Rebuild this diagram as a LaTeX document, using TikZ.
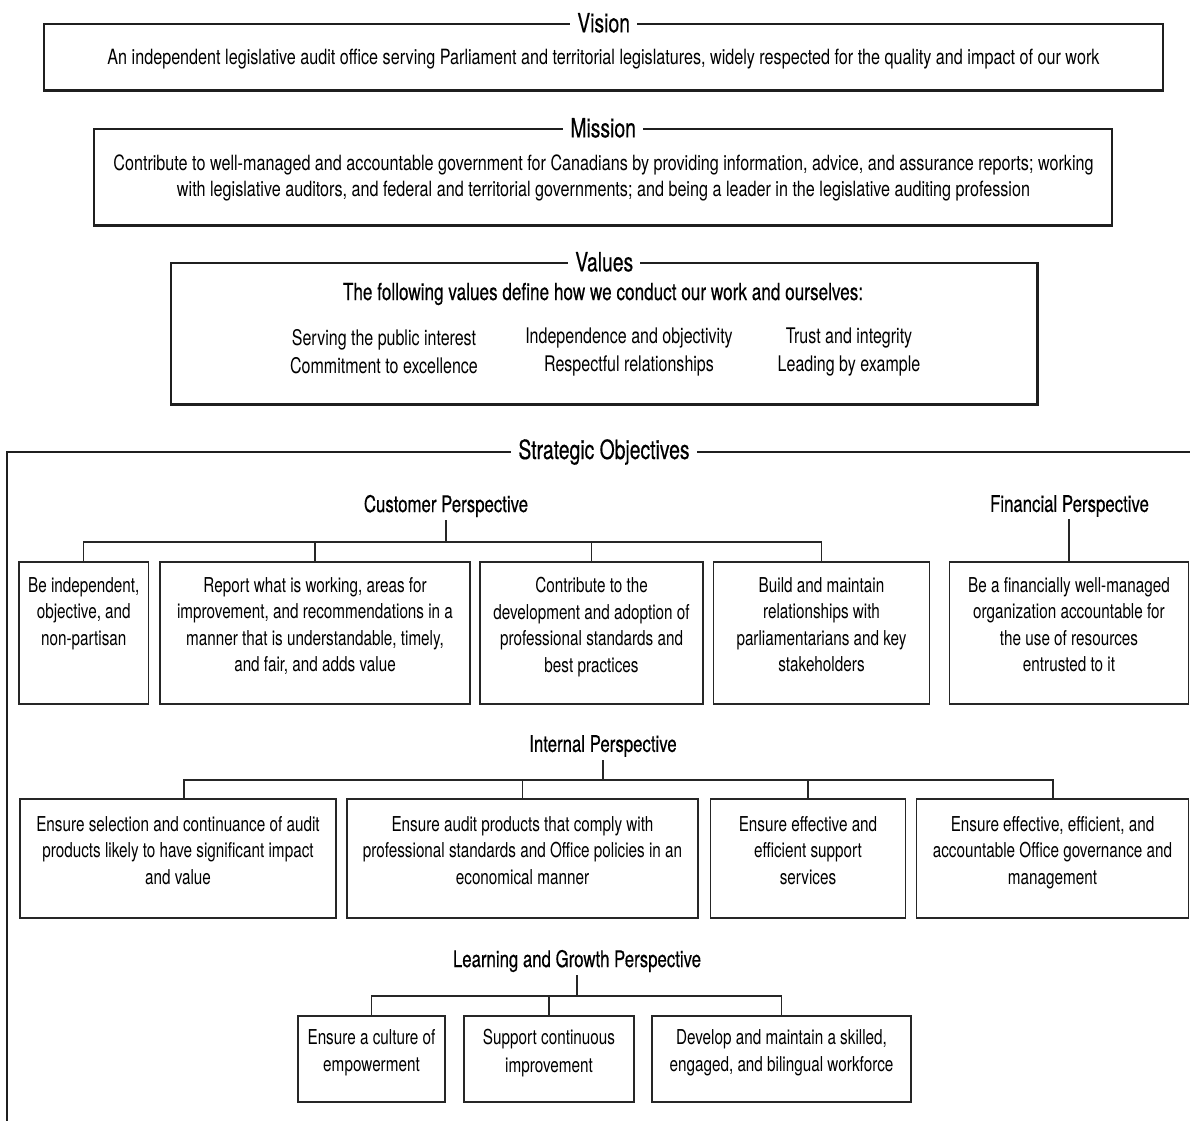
\documentclass[tikz,border=0pt]{standalone}
\usepackage{fontspec}
\setmainfont{TeX Gyre Heros}[FakeStretch=0.745]
\newfontfamily\vmfont{TeX Gyre Heros}[FakeStretch=0.77]
\newfontfamily\headfont{TeX Gyre Heros}[FakeStretch=0.73, FakeBold=0.4]
\usetikzlibrary{fit}
\tikzset{
  frame/.style={draw=black!88, line width=2.2pt},
  obox/.style={draw=black!85, line width=1.5pt, inner sep=0pt},
  ttl/.style={fill=white, inner xsep=7pt, inner ysep=2pt, font=\headfont\fontsize{26.5}{30}\selectfont},
  head/.style={inner sep=3pt, font=\headfont\fontsize{23}{27}\selectfont},
  body/.style={align=center, inner sep=0pt, font=\fontsize{20.5}{26.5}\selectfont},
  vmbody/.style={align=center, inner sep=0pt, font=\vmfont\fontsize{21}{26.5}\selectfont},
  vitem/.style={align=center, inner sep=0pt, font=\fontsize{21.5}{28}\selectfont},
  conn/.style={draw=black!85, line width=1.4pt},
}
\begin{document}
\begin{tikzpicture}[x=1pt, y=-1pt]
\useasboundingbox (0,0) rectangle (1190,1120);
\fill[white] (0,0) rectangle (1190,1120);

% Vision
\node[frame, fit={(44.3,24)(1163,90.5)}, inner sep=0pt] (vision) {};
\node[ttl] (visionT) at (vision.north) {Vision};
\node[vmbody] (visionX) at (603.5,59) {An independent legislative audit office serving Parliament and territorial legislatures, widely respected for the quality and impact of our work};

% Mission
\node[frame, fit={(94.3,129)(1112,225.5)}, inner sep=0pt] (mission) {};
\node[ttl] (missionT) at (mission.north) {Mission};
\node[vmbody] (missionX) at (603.5,178) {Contribute to well-managed and accountable government for Canadians by providing information, advice, and assurance reports; working\\with legislative auditors, and federal and territorial governments; and being a leader in the legislative auditing profession};

% Values
\node[frame, fit={(171,263)(1037.5,404.5)}, inner sep=0pt] (values) {};
\node[ttl] (valuesT) at (values.north) {Values};
\node[inner sep=0pt, font=\headfont\fontsize{23.5}{28}\selectfont] (valuesI) at (603,294) {The following values define how we conduct our work and ourselves:};
\node[vitem] (vc1) at (384,352) {Serving the public interest\\Commitment to excellence};
\node[vitem] (vc2) at (629,352) {Independence and objectivity\\Respectful relationships};
\node[vitem] (vc3) at (849,352) {Trust and integrity\\Leading by example};

% Strategic objectives frame
\coordinate (soTR) at (1195,452);
\coordinate (soBL) at (7,1125);
\draw[frame] (soTR) -- (7,452) -- (soBL);
\node[ttl] (soT) at (604,452) {Strategic Objectives};

% Customer perspective
\node[head] (cust) at (446,506) {Customer Perspective};
\node[head] (fin) at (1069.5,506) {Financial Perspective};
\node[obox, fit={(19,562)(148.5,704)}] (c1) {};
\node[obox, fit={(160,562)(470,704)}] (c2) {};
\node[obox, fit={(480,562)(703,704)}] (c3) {};
\node[obox, fit={(713.5,562)(929.5,704)}] (c4) {};
\node[obox, fit={(949.5,562)(1188.5,704)}] (f1) {};
\node[body, anchor=north] (c1x) at (83.75,577) {Be independent,\\objective, and\\non-partisan};
\node[body, anchor=north] (c2x) at (315,577) {Report what is working, areas for\\improvement, and recommendations in a\\manner that is understandable, timely,\\and fair, and adds value};
\node[body, anchor=north] (c3x) at (591.5,577) {Contribute to the\\development and adoption of\\professional standards and\\best practices};
\node[body, anchor=north] (c4x) at (821.5,577) {Build and maintain\\relationships with\\parliamentarians and key\\stakeholders};
\node[body, anchor=north] (f1x) at (1069,577) {Be a financially well-managed\\organization accountable for\\the use of resources\\entrusted to it};
\coordinate (cbar) at (446,542);
\draw[conn] (cust.south) -- (cbar);
\draw[conn] (c1.north) -- (c1.north |- cbar) -- (c4.north |- cbar) -- (c4.north);
\draw[conn] (c2.north) -- (c2.north |- cbar);
\draw[conn] (c3.north) -- (c3.north |- cbar);
\draw[conn] (fin.south) -- (fin.south -| f1.north) -- (f1.north);

% Internal perspective
\node[head] (int) at (603,746) {Internal Perspective};
\node[obox, fit={(20,799)(336,918)}] (i1) {};
\node[obox, fit={(347,799)(698,918)}] (i2) {};
\node[obox, fit={(710.5,799)(905.5,918)}] (i3) {};
\node[obox, fit={(916.5,799)(1188.5,918)}] (i4) {};
\node[body, anchor=north] (i1x) at (178,816) {Ensure selection and continuance of audit\\products likely to have significant impact\\and value};
\node[body, anchor=north] (i2x) at (522.5,816) {Ensure audit products that comply with\\professional standards and Office policies in an\\economical manner};
\node[body, anchor=north] (i3x) at (808,816) {Ensure effective and\\efficient support\\services};
\node[body, anchor=north] (i4x) at (1052.5,816) {Ensure effective, efficient, and\\accountable Office governance and\\management};
\coordinate (ibar) at (603,780);
\coordinate (ia) at (184,799);
\coordinate (id) at (1053,799);
\draw[conn] (int.south) -- (ibar);
\draw[conn] (ia) -- (ia |- ibar) -- (id |- ibar) -- (id);
\draw[conn] (i2.north) -- (i2.north |- ibar);
\draw[conn] (i3.north) -- (i3.north |- ibar);

% Learning and growth perspective
\node[head] (lg) at (577,961) {Learning and Growth Perspective};
\node[obox, fit={(298,1016)(445,1102)}] (l1) {};
\node[obox, fit={(464,1016)(634,1102)}] (l2) {};
\node[obox, fit={(652,1016)(911,1102)}] (l3) {};
\node[body, anchor=north, font=\fontsize{20.5}{27.5}\selectfont] (l1x) at (371.5,1029) {Ensure a culture of\\empowerment};
\node[body, anchor=north, font=\fontsize{20.5}{27.5}\selectfont] (l2x) at (549,1029) {Support continuous\\improvement};
\node[body, anchor=north, font=\fontsize{20.5}{27.5}\selectfont] (l3x) at (781.5,1029) {Develop and maintain a skilled,\\engaged, and bilingual workforce};
\coordinate (lbar) at (577,996);
\draw[conn] (lg.south) -- (lbar);
\draw[conn] (l1.north) -- (l1.north |- lbar) -- (l3.north |- lbar) -- (l3.north);
\draw[conn] (l2.north) -- (l2.north |- lbar);
\end{tikzpicture}
\end{document}
